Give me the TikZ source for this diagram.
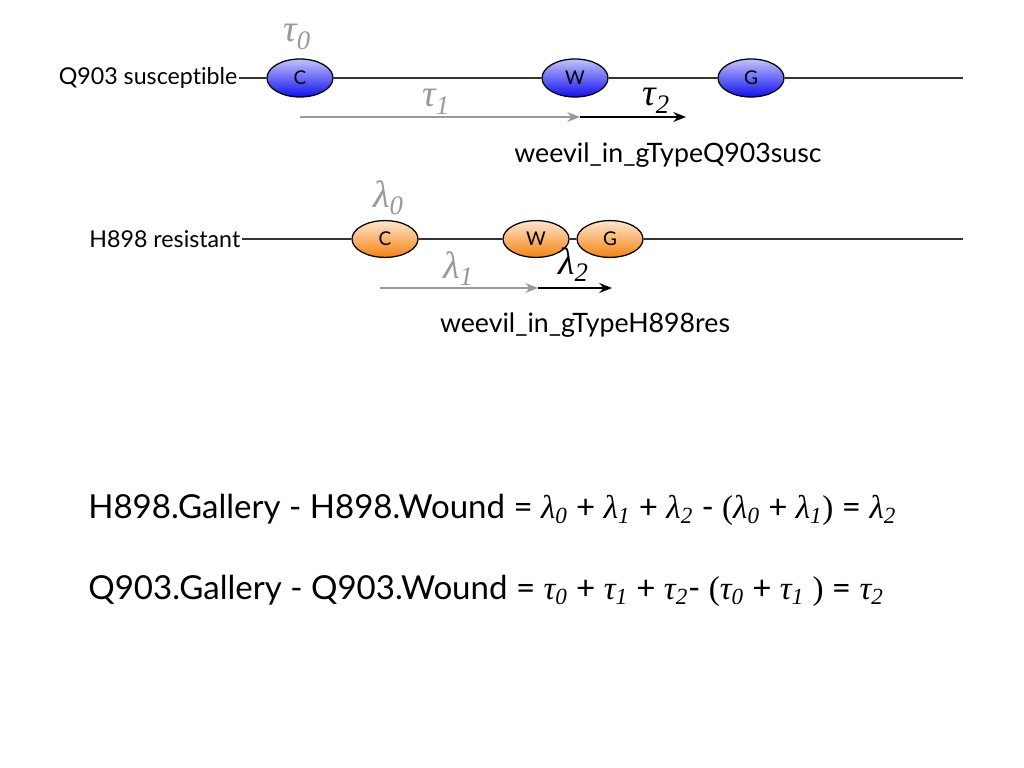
\documentclass[tikz,border=0pt]{standalone}
\usepackage{fontspec}
\setmainfont{Lato}[Ligatures=NoCommon]
\newfontfamily\grkfont{Liberation Serif}
\usetikzlibrary{shapes.geometric, arrows.meta, positioning}
\definecolor{labelgray}{HTML}{999999}
\definecolor{susblue}{HTML}{1010F0}
\definecolor{resorange}{HTML}{F5820F}

% Greek letter with italic subscript, as used in the equations
\newcommand{\gksub}[2]{{\grkfont\itshape #1\textsubscript{#2}}}
% Greek letter with a lowered italic index, as used above the arrows
\newcommand{\gkstep}[2]{{\grkfont\itshape #1\raisebox{-5pt}{\fontsize{19}{19}\selectfont #2}}}

\tikzset{
  lineart/.style={line width=0.8pt, black!80},
  blueloc/.style={ellipse, draw=black, line width=0.9pt, minimum width=1.65cm, minimum height=0.95cm,
    top color=susblue!25!white, bottom color=susblue, font=\fontsize{13.5}{13.5}\selectfont},
  orangeloc/.style={ellipse, draw=black, line width=0.9pt, minimum width=1.65cm, minimum height=0.92cm,
    top color=resorange!20!white, bottom color=resorange, font=\fontsize{13.5}{13.5}\selectfont},
  rowlabel/.style={anchor=east, inner sep=1pt, font=\fontsize{16.5}{16.5}\selectfont},
  steplabel/.style={labelgray, anchor=base west, inner sep=0pt, font=\fontsize{27}{27}\selectfont},
  graytime/.style={labelgray, line width=1.6pt, -{Stealth[length=9pt, width=7pt]}},
  blacktime/.style={black, line width=1.6pt, -{Stealth[length=9pt, width=7pt]}},
  genolabel/.style={font=\fontsize{19}{19}\selectfont},
  eqtext/.style={anchor=west, inner sep=0pt, font=\fontsize{23.5}{23.5}\selectfont}
}

\begin{document}
\begin{tikzpicture}[x=0.025cm, y=-0.025cm]
  % Canvas
  \useasboundingbox (0,0) rectangle (1024,768);
  \fill[white] (0,0) rectangle (1024,768);

  % Q903 susceptible row
  \node[rowlabel] (q903lbl) at (239,78) {Q903 susceptible};
  \node[blueloc] (q903C) at (300,78) {C};
  \node[blueloc] (q903W) at (575,78) {W};
  \node[blueloc] (q903G) at (751,78) {G};
  \coordinate (q903end) at (963,78);
  \draw[lineart] (q903lbl.east) -- (q903C) -- (q903W) -- (q903G) -- (q903end);

  \node[steplabel] (tau0) at (283,42) {\gkstep{τ}{0}};
  \coordinate (tau1start) at (300,117);
  \coordinate (tau1end) at (580,117);
  \coordinate (tau2end) at (686,117);
  \draw[graytime] (tau1start) -- (tau1end);
  \draw[blacktime] (tau1end) -- (tau2end);
  \node[steplabel] (tau1) at (422,107) {\gkstep{τ}{1}};
  \node[steplabel, black] (tau2) at (642,106) {\gkstep{τ}{2}};
  \node[genolabel] (q903geno) at (668,155) {weevil\_in\_gTypeQ903susc};

  % H898 resistant row
  \node[rowlabel] (h898lbl) at (242,239) {H898 resistant};
  \node[orangeloc] (h898C) at (385,239) {C};
  \node[orangeloc] (h898W) at (536,239) {W};
  \node[orangeloc] (h898G) at (610,239) {G};
  \coordinate (h898end) at (963,239);
  \draw[lineart] (h898lbl.east) -- (h898C) -- (h898W) -- (h898G) -- (h898end);

  \node[steplabel] (lam0) at (373,207) {\gkstep{λ}{0}};
  \coordinate (lam1start) at (380,288);
  \coordinate (lam1end) at (538,288);
  \coordinate (lam2end) at (612,288);
  \draw[graytime] (lam1start) -- (lam1end);
  \draw[blacktime] (lam1end) -- (lam2end);
  \node[steplabel] (lam1) at (443,278) {\gkstep{λ}{1}};
  \node[steplabel, black] (lam2) at (558,274) {\gkstep{λ}{2}};
  \node[genolabel] (h898geno) at (585,325) {weevil\_in\_gTypeH898res};

  % Equations
  \node[eqtext] (h898eq) at (88,510) {H898.Gallery - H898.Wound = \gksub{λ}{0} + \gksub{λ}{1} + \gksub{λ}{2} - {\grkfont(}\gksub{λ}{0} + \gksub{λ}{1}{\grkfont)} = \gksub{λ}{2}};
  \node[eqtext] (q903eq) at (88,591) {Q903.Gallery - Q903.Wound = \gksub{τ}{0} + \gksub{τ}{1} + \gksub{τ}{2}- {\grkfont(}\gksub{τ}{0} + \gksub{τ}{1} {\grkfont)} = \gksub{τ}{2}};
\end{tikzpicture}
\end{document}
